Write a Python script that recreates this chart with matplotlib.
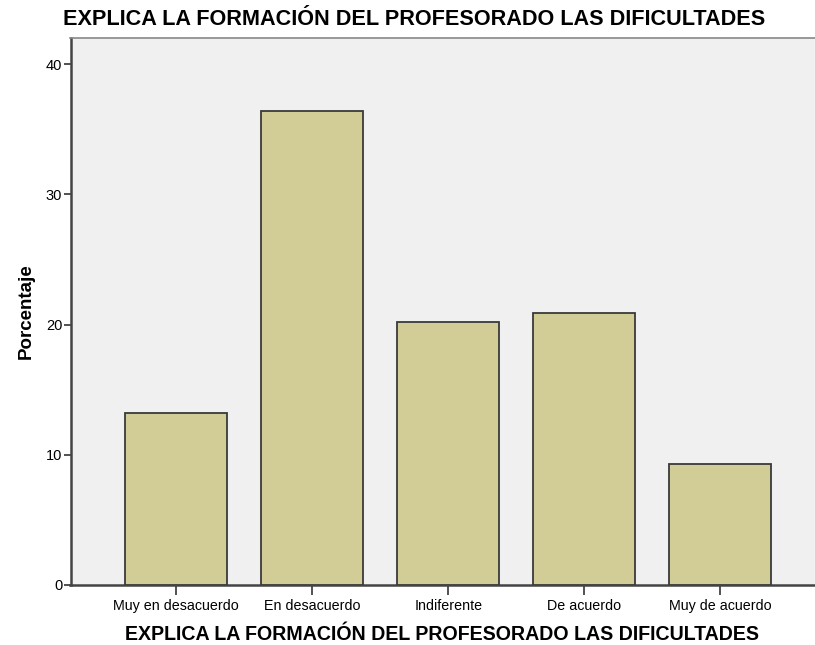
import matplotlib
matplotlib.use("Agg")
import matplotlib.pyplot as plt

categories = ["Muy en desacuerdo", "En desacuerdo", "Indiferente", "De acuerdo", "Muy de acuerdo"]
values = [13.2, 36.4, 20.2, 20.9, 9.3]
yticks = [0, 10, 20, 30, 40]
title = "EXPLICA LA FORMACIÓN DEL PROFESORADO LAS DIFICULTADES"

plt.rcParams['font.family'] = ['Liberation Sans', 'DejaVu Sans']

fig = plt.figure(figsize=(8.15, 6.45), dpi=100)
ax = fig.add_axes([70.5/815, 60/645, 756/815, 547/645])
ax.set_facecolor("#F0F0F0")
x = list(range(len(categories)))
ax.bar(x, values, width=0.75, color="#D2CD96", edgecolor="#3a3a3a", linewidth=1.3, zorder=3)
ax.set_xlim(-0.776, 4.78)
ax.set_ylim(0, 42)
ax.set_yticks(yticks)
ax.set_yticklabels([str(t) for t in yticks], fontsize=10.5)
ax.set_xticks(x)
ax.set_xticklabels(categories, fontsize=10.3)
ax.tick_params(axis='y', length=5, width=1.2, color="#333333", pad=1)
ax.tick_params(axis='x', length=7, width=1.2, color="#333333", pad=3)
for s in ['left', 'bottom']:
    ax.spines[s].set_color("#444444")
    ax.spines[s].set_linewidth(1.8)
ax.spines['top'].set_color("#888888")
ax.spines['top'].set_linewidth(1.2)
ax.spines['right'].set_visible(False)
ax.set_ylabel("Porcentaje", fontsize=13.5, fontweight='bold', labelpad=8)
ax.set_xlabel(title, fontsize=14.1, fontweight='bold', labelpad=8)
ax.xaxis.set_label_coords(0.492, -0.074)
fig.text(63/815, 1 - 19.5/645, title, fontsize=15.6, fontweight='bold', va='center', ha='left')
fig.savefig("out.png", dpi=100)
